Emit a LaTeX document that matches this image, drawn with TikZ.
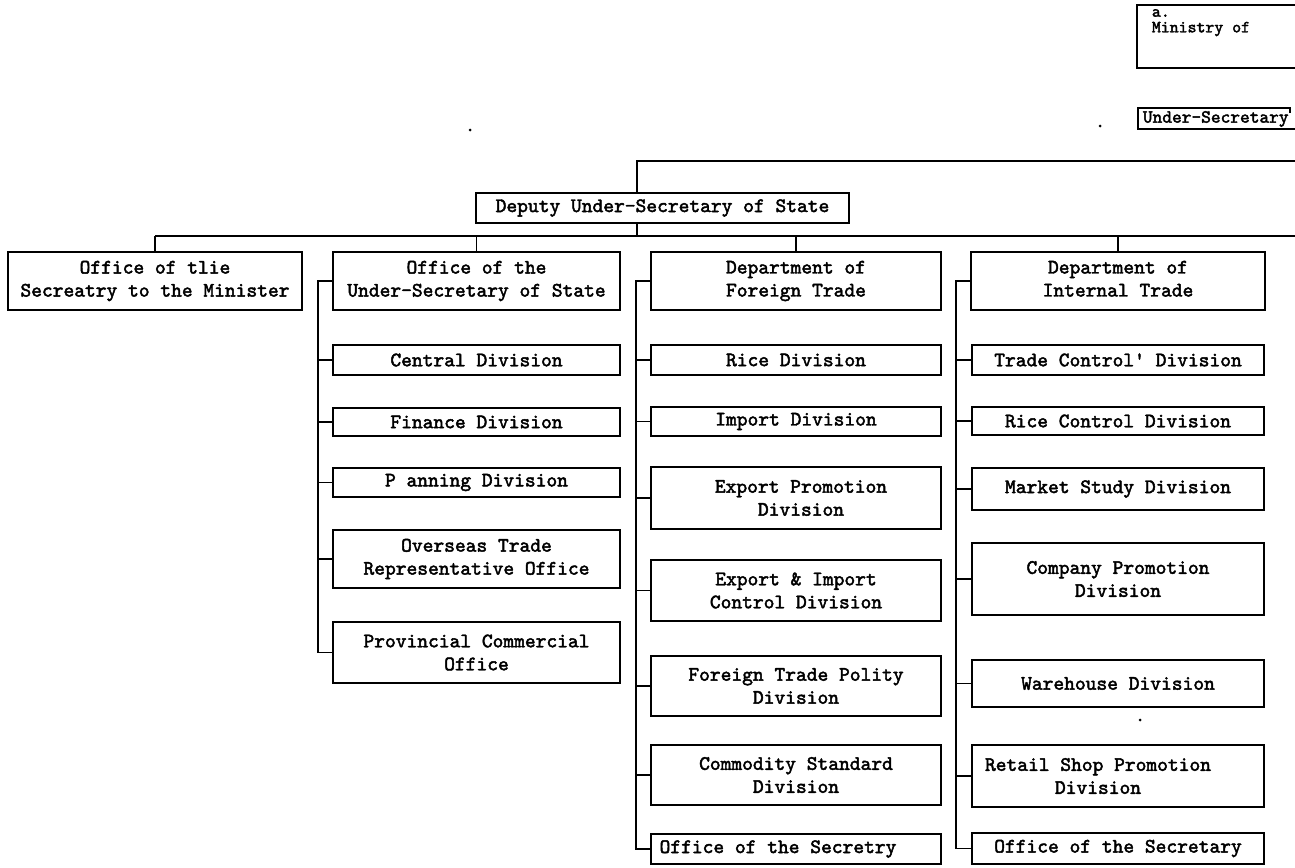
\documentclass[tikz,border=0pt]{standalone}
\usepackage{fontspec}
\newfontfamily\tw[FakeBold=2.2]{lmmono10-regular.otf}
\begin{document}
\begin{tikzpicture}[x=1pt,y=-1pt,line width=1.8pt,
  box/.style={draw,line width=1.8pt,inner sep=1pt,align=center,
    font=\tw\fontsize{20.5}{23}\selectfont},
  lbl/.style={inner sep=0pt,anchor=west},
  speck/.style={fill=black,circle,inner sep=0pt,minimum size=3pt}]
\clip (0,0) rectangle (1295,867);
\fill[white] (0,0) rectangle (1295,867);

% --- top right fragments ---
\coordinate (mA) at (1137,5);
\coordinate (mB) at (1137,68);
\draw (1300,5) -- (mA) -- (mB) -- (1300,68);
\node[lbl,font=\tw\fontsize{17}{20}\selectfont] (ma) at (1151,13) {a.};
\node[lbl,font=\tw\fontsize{17}{20}\selectfont] (mm) at (1151,29) {Ministry of};
\coordinate (uA) at (1138,108);
\coordinate (uB) at (1138,129);
\draw (1290,113) -- (1290,108) -- (uA) -- (uB) -- (1300,129);
\node[lbl,font=\tw\fontsize{18.5}{22}\selectfont] (us) at (1142,119) {Under-Secretary};
\node[speck] (d1) at (470,130) {};
\node[speck] (d2) at (1100,126) {};
\node[speck] (d3) at (1140,720) {};

% --- deputy ---
\node[box,minimum width=373pt,minimum height=30pt] (dep) at (662.5,208) {Deputy Under-Secretary of State};
\coordinate (t) at (637,161);
\coordinate (eR) at (1300,161);
\draw (eR) -- (t) -- (t |- dep.north);
\coordinate (b) at (637,236);
\draw (b |- dep.south) -- (b);

% --- first level ---
\node[box,minimum width=294pt,minimum height=58pt] (os) at (155,281) {Office of tlie\\Secreatry to the Minister};
\node[box,minimum width=287pt,minimum height=58pt] (ous) at (476.5,281) {Office of the\\Under-Secretary of State};
\node[box,minimum width=290pt,minimum height=58pt] (dft) at (796,281) {Department of\\Foreign Trade};
\node[box,minimum width=294pt,minimum height=58pt] (dit) at (1118,281) {Department of\\Internal Trade\vphantom{g}};

\draw (os.north |- b) -- (eR |- b);
\foreach \n in {os,ous,dft,dit} \draw (\n.north) -- (\n.north |- b);

% --- column 2 ---
\begin{scope}[every node/.style={box,minimum width=287pt}]
\node[minimum height=30pt] (c2a) at (476.5,360) {Central Division};
\node[minimum height=28pt] (c2b) at (476.5,422) {Finance Division};
\node[minimum height=29pt] (c2c) at (476.5,482.5) {P anning Division};
\node[minimum height=58pt] (c2d) at (476.5,559) {Overseas Trade\\Representative Office};
\node[minimum height=61pt] (c2e) at (476.5,652.5) {Provincial Commercial\\Office};
\end{scope}
\coordinate (s2) at (318,0);
\draw (ous.west) -| (s2 |- c2e.west) -- (c2e.west);
\foreach \n in {c2a,c2b,c2c,c2d} \draw (\n.west) -- (s2 |- \n.west);

% --- column 3 ---
\begin{scope}[every node/.style={box,minimum width=290pt}]
\node[minimum height=30pt] (c3a) at (796,360) {Rice Division};
\node[minimum height=29pt] (c3b) at (796,421.5) {Import Division};
\node[minimum height=62pt] (c3c) at (796,498) {\hspace*{10pt}Export Promotion\\\hspace*{10pt}Division};
\node[minimum height=61pt] (c3d) at (796,590.5) {Export \& Import\\Control Division};
\node[minimum height=60pt] (c3e) at (796,686) {Foreign Trade Polity\\Division};
\node[minimum height=60pt] (c3f) at (796,775) {Commodity Standard\\Division};
\node[minimum height=30pt] (c3g) at (796,849) {Office of the Secretry\hspace*{36pt}};
\end{scope}
\coordinate (s3) at (636,0);
\draw (dft.west) -| (s3 |- c3g.west) -- (c3g.west);
\foreach \n in {c3a,c3b,c3c,c3d,c3e,c3f} \draw (\n.west) -- (s3 |- \n.west);

% --- column 4 ---
\begin{scope}[every node/.style={box,minimum width=292pt}]
\node[minimum height=30pt] (c4a) at (1118,360) {Trade Control' Division};
\node[minimum height=28pt] (c4b) at (1118,421) {Rice Control Division};
\node[minimum height=42pt] (c4c) at (1118,489) {Market Study Division};
\node[minimum height=72pt] (c4d) at (1118,579) {Company Promotion\\Division};
\node[minimum height=47pt] (c4e) at (1118,683.5) {Warehouse Division};
\node[minimum height=62pt] (c4f) at (1118,776) {Retail Shop Promotion\hspace*{40pt}\\Division\hspace*{40pt}};
\node[minimum height=31pt] (c4g) at (1118,848.5) {Office of the Secretary};
\end{scope}
\coordinate (s4) at (956,0);
\draw (dit.west) -| (s4 |- c4g.west) -- (c4g.west);
\foreach \n in {c4a,c4b,c4c,c4d,c4e,c4f} \draw (\n.west) -- (s4 |- \n.west);
\end{tikzpicture}
\end{document}
